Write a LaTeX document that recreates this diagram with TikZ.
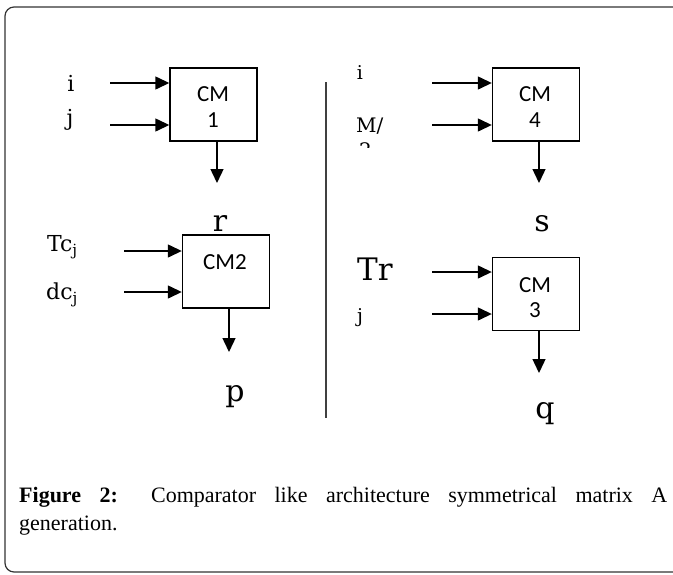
\documentclass[tikz,border=0pt]{standalone}
\usepackage{fontspec}
\setmainfont{Liberation Serif}
\newfontfamily\labfont{DejaVu Serif}
\newfontfamily\cmfont{Carlito}
\usetikzlibrary{arrows.meta}
\begin{document}
\begin{tikzpicture}[x=1pt,y=-1pt,
  box/.style={draw=black,line width=1.4pt,minimum width=87pt,minimum height=73pt,inner sep=0pt},
  arr/.style={draw=black,line width=1.4pt,-{Triangle[length=14pt,width=13pt]}},
  lab/.style={inner sep=0pt,anchor=base,font=\labfont\fontsize{22}{22}\selectfont},
  big/.style={inner sep=0pt,anchor=base,font=\labfont\fontsize{30}{30}\selectfont},
  sml/.style={inner sep=0pt,anchor=base,font=\labfont\fontsize{19}{19}\selectfont},
  lw/.style={inner sep=0pt,anchor=base west},
  cmtxt/.style={inner sep=0pt,anchor=base,font=\cmfont\fontsize{23}{23}\selectfont}]
\useasboundingbox (0,0) rectangle (673,574);
% frame
\begin{scope}
\clip (0,0) rectangle (673,574);
\draw[line width=1.2pt,color=black!80,rounded corners=9pt] (5,7) rectangle (700,572);
\end{scope}
% divider
\coordinate (dtop) at (326,82);
\coordinate (dbot) at (326,418);
\draw[line width=1.2pt,color=black!75] (dtop) -- (dbot);
% boxes
\node[box] (cm1) at (213.5,104.5) {};
\node[box] (cm2) at (226,271.5) {};
\node[box] (cm4) at (536,104.5) {};
\node[box] (cm3) at (536,294) {};
% box texts
\node[cmtxt] (cm1a) at (213,101) {CM};
\node[cmtxt] (cm1b) at (213,127) {1};
\node[cmtxt] (cm2a) at (225,269) {CM2};
\node[cmtxt] (cm4a) at (535,101) {CM};
\node[cmtxt] (cm4b) at (535,127) {4};
\node[cmtxt] (cm3a) at (535,292) {CM};
\node[cmtxt] (cm3b) at (535,317) {3};
% input labels
\node[lab] (li) at (71,91) {i};
\node[lab] (lj) at (70,125) {j};
\node[lw,font=\labfont\fontsize{22}{22}\selectfont] (ltc) at (47,251) {Tc\textsubscript{j}};
\node[lw,font=\labfont\fontsize{22}{22}\selectfont] (ldc) at (46,299) {dc\textsubscript{j}};
\node[sml] (ri) at (360,79) {i};
\node[lw,font=\labfont\fontsize{20}{20}\selectfont] (rm) at (356,132) {M/};
\begin{scope}
\clip (340,136) rectangle (400,147);
\node[lw,font=\labfont\fontsize{20}{20}\selectfont] (rm2) at (359,157) {2};
\end{scope}
\node[lw,font=\labfont\fontsize{31}{31}\selectfont] (rtr) at (357,280) {Tr};
\node[sml] (rj) at (360,322) {j};
% input arrow starts
\coordinate (a1) at (110,83);
\coordinate (a2) at (110,125);
\coordinate (b1) at (124,251);
\coordinate (b2) at (124,292);
\coordinate (c1) at (432,83);
\coordinate (c2) at (432,125);
\coordinate (d1) at (432,272);
\coordinate (d2) at (432,314);
\draw[arr] (a1) -- (a1 -| cm1.west);
\draw[arr] (a2) -- (a2 -| cm1.west);
\draw[arr] (b1) -- (b1 -| cm2.west);
\draw[arr] (b2) -- (b2 -| cm2.west);
\draw[arr] (c1) -- (c1 -| cm4.west);
\draw[arr] (c2) -- (c2 -| cm4.west);
\draw[arr] (d1) -- (d1 -| cm3.west);
\draw[arr] (d2) -- (d2 -| cm3.west);
% outputs
\coordinate (o1) at (217,183);
\coordinate (o2) at (229,352);
\coordinate (o4) at (539,183);
\coordinate (o3) at (539,373);
\draw[arr] (o1 |- cm1.south) -- (o1);
\draw[arr] (o2 |- cm2.south) -- (o2);
\draw[arr] (o4 |- cm4.south) -- (o4);
\draw[arr] (o3 |- cm3.south) -- (o3);
\node[big] (r) at (220,231) {r};
\node[big] (p) at (235,401) {p};
\node[big] (s) at (542,231) {s};
\node[big] (q) at (545,418) {q};
% caption
\node[inner sep=0pt,anchor=base west,text width=648pt,align=justify,
  font=\fontsize{22}{28}\selectfont] (cap) at (19,502)
  {\textbf{Figure 2:} Comparator like architecture symmetrical matrix A\linebreak generation.};
\end{tikzpicture}
\end{document}
